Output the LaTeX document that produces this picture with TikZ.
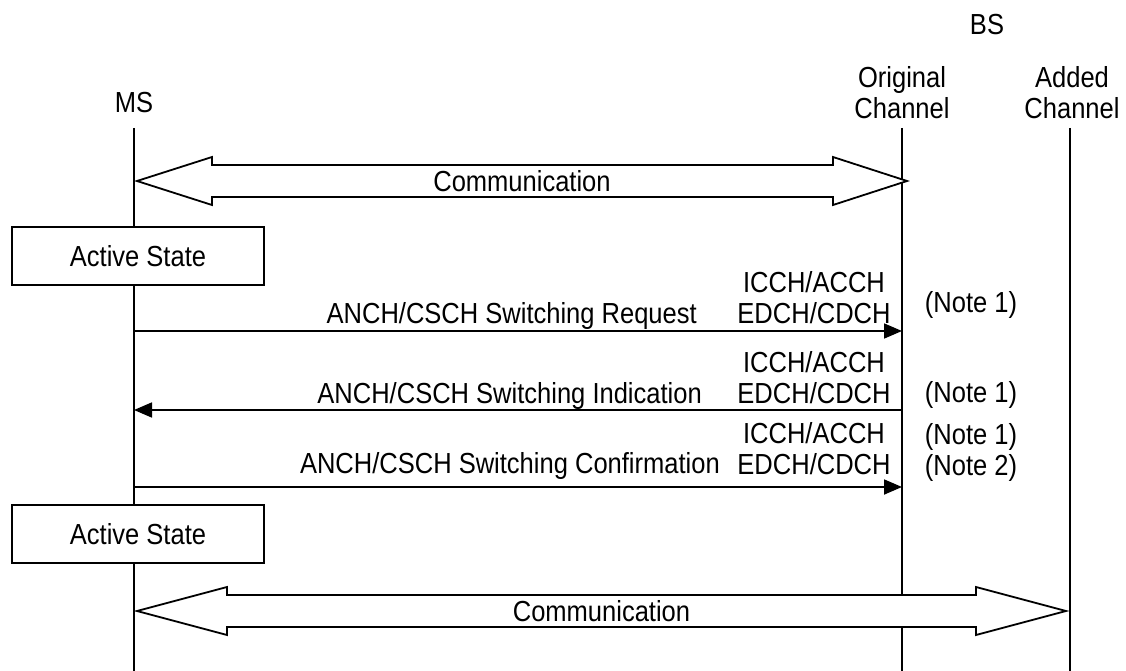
\documentclass[tikz,border=0pt]{standalone}
\usepackage{fontspec}
\setmainfont[FakeStretch=0.88]{Liberation Sans}
\usetikzlibrary{arrows.meta,calc,positioning}

\begin{document}
\begin{tikzpicture}[x=1pt, y=-1pt,
    every node/.style={font=\fontsize{29}{31}\selectfont, inner sep=0pt},
    life/.style={line width=1.8pt},
    comm/.style={line width=1.8pt, fill=white, line join=miter},
    statebox/.style={draw, line width=1.8pt, fill=white, minimum width=252pt, minimum height=58pt},
    msg/.style={line width=1.8pt, -{Triangle[length=18pt,width=15pt]}},
    multi/.style={align=center, anchor=north}]
  \useasboundingbox (0,0) rectangle (1126,671);
  % entities
  \node[anchor=base] (bs) at (987,35) {BS};
  \node[anchor=base] (ms) at (134,113) {MS};
  \node[multi] (orig) at (902,66) {Original\\Channel};
  \node[multi] (added) at (1072,66) {Added\\Channel};
  % lifelines
  \coordinate (msTop) at (134,128);   \coordinate (msEnd) at (134,671);
  \coordinate (origTop) at (902,128); \coordinate (origEnd) at (902,671);
  \coordinate (addTop) at (1070,128); \coordinate (addEnd) at (1070,671);
  \draw[life] (msTop) -- (msEnd);
  \draw[life] (origTop) -- (origEnd);
  \draw[life] (addTop) -- (addEnd);
  % communication (original channel)
  \coordinate (c1l) at (137,181); \coordinate (c1r) at (907,181);
  \draw[comm] (c1l) -- ++(75,-24) -- ++(0,8) -- ($(c1r)+(-74,-16)$) -- ++(0,-8) -- (c1r)
    -- ++(-74,24) -- ++(0,-8) -- ($(c1l)+(75,16)$) -- ++(0,8) -- cycle;
  \node (comm1) at ($(c1l)!0.5!(c1r)$) {Communication};
  \node[statebox] (act1) at (138,256) {Active State};
  % switching sequence
  \coordinate (ms1) at (134,331); \coordinate (or1) at (902,331);
  \coordinate (ms2) at (134,410); \coordinate (or2) at (902,410);
  \coordinate (ms3) at (134,487); \coordinate (or3) at (902,487);
  \draw[msg] (ms1) -- (or1);
  \draw[msg] (or2) -- (ms2);
  \draw[msg] (ms3) -- (or3);
  \node[anchor=base east] (req) at (697,323) {ANCH/CSCH Switching Request};
  \node[anchor=base east] (ind) at (702,403) {ANCH/CSCH Switching Indication};
  \node[anchor=base east] (conf) at (720,473) {ANCH/CSCH Switching Confirmation};
  \node[multi] (ch1) at (814,271) {ICCH/ACCH\\EDCH/CDCH};
  \node[multi] (ch2) at (814,351) {ICCH/ACCH\\EDCH/CDCH};
  \node[multi] (ch3) at (814,422) {ICCH/ACCH\\EDCH/CDCH};
  \node[anchor=base] (note1) at (971,312) {(Note 1)};
  \node[anchor=base] (note2) at (971,402) {(Note 1)};
  \node[multi] (note3) at (971,423) {(Note 1)\\(Note 2)};
  \node[statebox] (act2) at (138,534) {Active State};
  % communication (added channel)
  \coordinate (c2l) at (137,611); \coordinate (c2r) at (1066,611);
  \draw[comm] (c2l) -- ++(90,-24) -- ++(0,8) -- ($(c2r)+(-90,-16)$) -- ++(0,-8) -- (c2r)
    -- ++(-90,24) -- ++(0,-8) -- ($(c2l)+(90,16)$) -- ++(0,8) -- cycle;
  \node (comm2) at ($(c2l)!0.5!(c2r)$) {Communication};
\end{tikzpicture}
\end{document}
